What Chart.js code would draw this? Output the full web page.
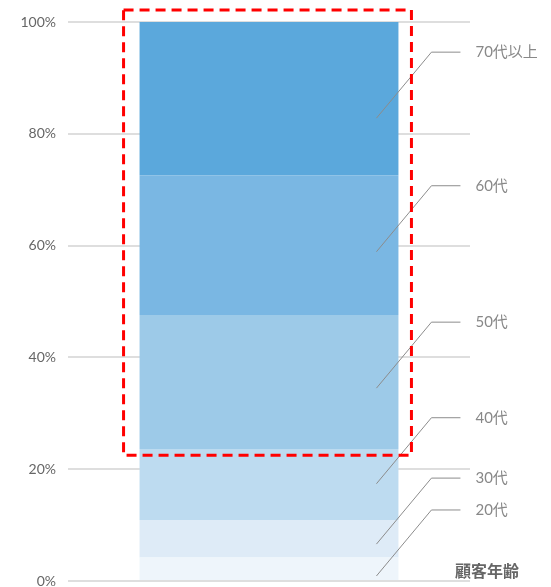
<!DOCTYPE html>
<html>
<head>
<meta charset="utf-8">
<script src="https://cdn.jsdelivr.net/npm/chart.js@4"></script>
<style>
    body { margin: 0; background: #fff; }
    canvas { display: block; }
</style>
</head>
<body>
<canvas id="ageChart" width="551" height="587"></canvas>
<script>
// values (share of customers, %)
const ageGroups = ['20代', '30代', '40代', '50代', '60代', '70代以上'];
const shares = [4.2, 6.7, 12.7, 24.0, 25.0, 27.4];
const categories = ['顧客年齢'];
const yTicks = [0, 20, 40, 60, 80, 100];
const barColors = ['#eef5fb', '#deebf7', '#bddbf0', '#9dcae8', '#7ab7e3', '#5ba8dc'];

// where each leader line starts (in %), and the lower edge of the dashed box
const leaderAnchors = [0.9, 6.6, 17.4, 34.5, 58.9, 82.8];
const highlightFrom = 22.5;

const font = "Lato, 'Noto Sans CJK JP', sans-serif";

// leader lines, labels, dashed box and axis title
const overlayPlugin = {
    id: 'overlay',
    afterDraw(chart) {
        const ctx = chart.ctx;
        const y = chart.scales.y;
        const area = chart.chartArea;
        const bar = chart.getDatasetMeta(0).data[0];
        const left = bar.x - bar.width / 2;
        const right = bar.x + bar.width / 2;

        ctx.save();
        ctx.strokeStyle = '#8c8c8c';
        ctx.lineWidth = 1;
        ctx.fillStyle = '#888';
        ctx.font = '15px ' + font;
        ctx.textBaseline = 'middle';
        ageGroups.forEach((name, i) => {
            const sy = y.getPixelForValue(leaderAnchors[i]);
            const sx = right - 22;
            const kx = sx + 55;
            const ky = sy - 66;
            ctx.beginPath();
            ctx.moveTo(sx, sy);
            ctx.lineTo(kx, ky);
            ctx.lineTo(kx + 29, ky);
            ctx.stroke();
            ctx.fillText(name, kx + 44, ky);
        });

        // red dashed highlight box
        ctx.strokeStyle = '#ff0000';
        ctx.lineWidth = 3;
        ctx.setLineDash([10, 6]);
        ctx.strokeRect(left - 16, area.top - 12, right - left + 29, y.getPixelForValue(highlightFrom) - area.top + 12);
        ctx.setLineDash([]);

        // category title
        ctx.fillStyle = '#666';
        ctx.font = 'bold 16px ' + font;
        ctx.textAlign = 'right';
        ctx.textBaseline = 'alphabetic';
        ctx.fillText(categories[0], chart.width - 32, area.bottom - 4);
        ctx.restore();
    }
};

const ctx = document.getElementById('ageChart').getContext('2d');
const ageChart = new Chart(ctx, {
    type: 'bar',
    data: {
        labels: categories,
        datasets: ageGroups.map((name, i) => ({
            label: name,
            data: [shares[i]],
            backgroundColor: barColors[i],
            borderWidth: 0,
            categoryPercentage: 0.644,
            barPercentage: 1
        }))
    },
    options: {
        responsive: false,
        animation: false,
        layout: { padding: { top: 22, right: 81, bottom: 6 } },
        plugins: {
            legend: { display: false },
            tooltip: { enabled: false }
        },
        scales: {
            x: { stacked: true, display: false },
            y: {
                stacked: true,
                min: 0,
                max: 100,
                z: 1,
                afterBuildTicks: scale => { scale.ticks = yTicks.map(v => ({ value: v })); },
                afterFit: scale => {
                    scale.width = 68;
                    scale.paddingTop = 0;
                    scale.paddingBottom = 0;
                },
                border: { display: false },
                grid: { color: 'rgba(0,0,0,0.13)', lineWidth: 2, drawTicks: false },
                ticks: {
                    padding: 12,
                    color: '#666',
                    font: { family: font, size: 14 },
                    callback: v => v + '%'
                }
            }
        }
    },
    plugins: [overlayPlugin]
});
</script>
</body>
</html>
